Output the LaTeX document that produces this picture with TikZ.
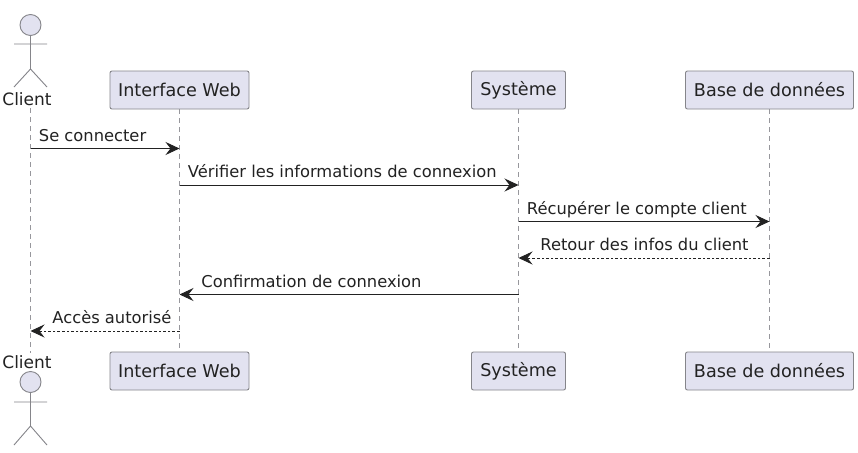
\documentclass[tikz,border=0pt]{standalone}
\usepackage{fontspec}
\setmainfont{DejaVu Sans}
\usepackage{xcolor}
\usetikzlibrary{positioning,arrows.meta}
\definecolor{fill1}{HTML}{E2E2F0}
\definecolor{line1}{HTML}{85858A}
\definecolor{ink1}{HTML}{222222}
\begin{document}
\begin{tikzpicture}[
    x=1pt, y=-1pt,
    font=\fontsize{16.3}{19}\selectfont,
    part/.style={draw=line1, fill=fill1, rounded corners=2pt, line width=0.9pt,
                 minimum height=38pt, inner sep=0pt, text=ink1,
                 font=\fontsize{17.6}{20}\selectfont},
    who/.style={inner sep=0pt, text=ink1, font=\fontsize{17}{20}\selectfont},
    head/.style={draw=line1, fill=fill1, circle, line width=0.9pt,
                 minimum size=21pt, inner sep=0pt},
    stick/.style={draw=line1, line width=0.9pt},
    life/.style={draw=line1!85, line width=0.8pt, dash pattern=on 5pt off 4pt},
    msg/.style={-{Stealth[length=14pt, width=13pt, inset=5pt]}, ink1, line width=0.9pt},
    rmsg/.style={msg, dash pattern=on 2.6pt off 2pt},
    lblr/.style={pos=0, anchor=base west, xshift=8pt, yshift=7.5pt, inner sep=0pt, text=ink1},
    lbll/.style={pos=1, anchor=base west, xshift=21.5pt, yshift=7.5pt, inner sep=0pt, text=ink1},
]
\useasboundingbox (0,0) rectangle (858,452);
\fill[white] (0,0) rectangle (858,452);
% participants
\node[part, minimum width=139pt] (webTop) at (179.5,90) {Interface Web};
\node[part, minimum width=94pt] (sysTop) at (518.5,90) {Système};
\node[part, minimum width=168pt] (baseTop) at (769.5,90) {Base de données};
\node[part, minimum width=139pt] (webBot) at (179.5,371) {Interface Web};
\node[part, minimum width=94pt] (sysBot) at (518.5,371) {Système};
\node[part, minimum width=168pt] (baseBot) at (769.5,371) {Base de données};
% actors
\node[who] (cliTop) at (27,99) {Client};
\node[who] (cliBot) at (27,362) {Client};
\coordinate (cliA) at (30.5,108);
\coordinate (cliB) at (30.5,353);
\node[head] (headTop) at (30.5,25) {};
\node[head] (headBot) at (30.5,382) {};
\coordinate (hipTop) at (30.5,69);
\coordinate (hipBot) at (30.5,426);
\draw[stick] (headTop) -- (hipTop) -- ++(-16.5,18) (hipTop) -- ++(16.5,18)
    (14,44) -- (47,44);
\draw[stick] (headBot) -- (hipBot) -- ++(-16.5,19) (hipBot) -- ++(16.5,19)
    (14,402) -- (47,402);
% lifelines
\draw[life] (cliA) -- (cliB);
\foreach \n in {web,sys,base}
    \draw[life] (\n Top) -- (\n Bot);
% messages
\coordinate (m1) at (0,148.5);
\coordinate (m2) at (0,185);
\coordinate (m3) at (0,221.5);
\coordinate (m4) at (0,258);
\coordinate (m5) at (0,294.5);
\coordinate (m6) at (0,331);
\draw[msg] (cliA |- m1) -- node[lblr] {Se connecter} (webTop |- m1);
\draw[msg] (webTop |- m2) -- node[lblr] {Vérifier les informations de connexion} (sysTop |- m2);
\draw[msg] (sysTop |- m3) -- node[lblr] {Récupérer le compte client} (baseTop |- m3);
\draw[rmsg] (baseTop |- m4) -- node[lbll] {Retour des infos du client} (sysTop |- m4);
\draw[msg] (sysTop |- m5) -- node[lbll] {Confirmation de connexion} (webTop |- m5);
\draw[rmsg] (webTop |- m6) -- node[lbll] {Accès autorisé} (cliA |- m6);
\end{tikzpicture}
\end{document}
